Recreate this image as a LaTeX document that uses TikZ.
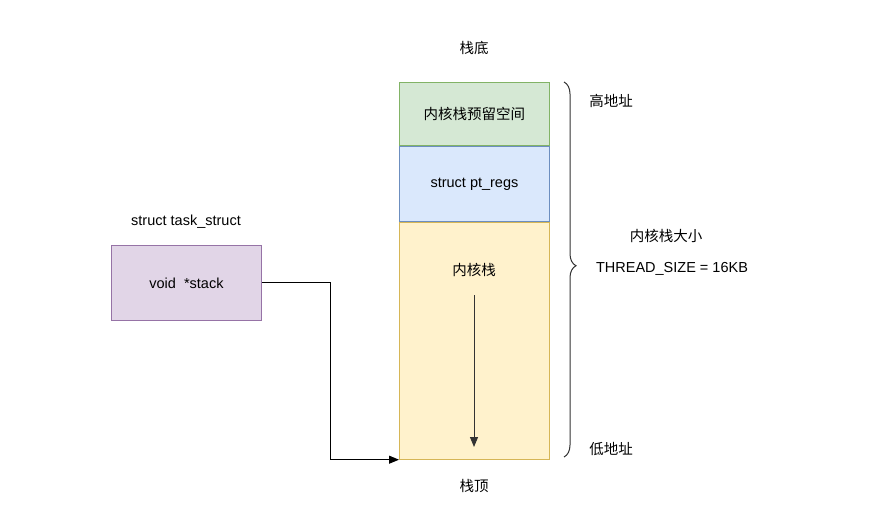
\documentclass[tikz,border=0pt]{standalone}
\usepackage{fontspec}
\setmainfont{Liberation Sans}
\newfontfamily\cjk{Noto Sans CJK SC}
\usetikzlibrary{positioning, arrows.meta, decorations.pathreplacing}

\definecolor{greenfill}{HTML}{D5E8D4}
\definecolor{greenline}{HTML}{82B366}
\definecolor{bluefill}{HTML}{DAE8FC}
\definecolor{blueline}{HTML}{6C8EBF}
\definecolor{yellowfill}{HTML}{FFF2CC}
\definecolor{yellowline}{HTML}{D6B656}
\definecolor{purplefill}{HTML}{E1D5E7}
\definecolor{purpleline}{HTML}{9673A6}
\definecolor{inkgray}{HTML}{333333}

\tikzset{
  txt/.style={font=\fontsize{14.5pt}{16pt}\selectfont, text=black, inner sep=0pt},
  cell/.style={txt, draw, line width=0.9pt, minimum width=150pt, anchor=north west},
  ptr/.style={-{Triangle[length=10pt, width=8pt]}, line width=1pt, black}
}

\begin{document}
\begin{tikzpicture}[x=1pt, y=-1pt]
                \useasboundingbox[fill=white] (0,0) rectangle (880,513);
                % kernel stack column
                \node[cell, fill=greenfill, draw=greenline, minimum height=63pt] (reserve) at (399,82) {\cjk 内核栈预留空间};
                \node[cell, fill=bluefill, draw=blueline, minimum height=75pt, below=0pt of reserve] (regs) {struct pt\_regs};
                \node[cell, fill=yellowfill, draw=yellowline, minimum height=237pt, below=0pt of regs] (stack) {};
                \node[txt] (stacklbl) at (474,270) {\cjk 内核栈};
                \coordinate (growfrom) at (474,295);
                \coordinate (growto) at (474,447);
                \draw[ptr, inkgray] (growfrom) -- (growto);
                \node[txt] (bottom) at (474,48) {\cjk 栈底};
                \node[txt] (top) at (474,486) {\cjk 栈顶};
                % task_struct
                \node[txt] (taskname) at (186,222) {struct task\_struct};
                \node[cell, fill=purplefill, draw=purpleline, minimum height=75pt] (task) at (111,245) {void\ \ *stack};
                \coordinate (bend) at (330,0);
                \draw[ptr] (task.east) -| (bend |- stack.south west) -- (stack.south west);
                % size brace
                \draw[decorate, decoration={brace, amplitude=12pt, aspect=0.49}, line width=1pt, inkgray]
                    (564,82) -- (564,457);
                \node[txt] (high) at (611,101) {\cjk 高地址};
                \node[txt] (low) at (611,449) {\cjk 低地址};
                \node[txt] (sizecn) at (666,236) {\cjk 内核栈大小};
                \node[txt] (size) at (672,269) {THREAD\_SIZE = 16KB};
            \end{tikzpicture}
\end{document}
